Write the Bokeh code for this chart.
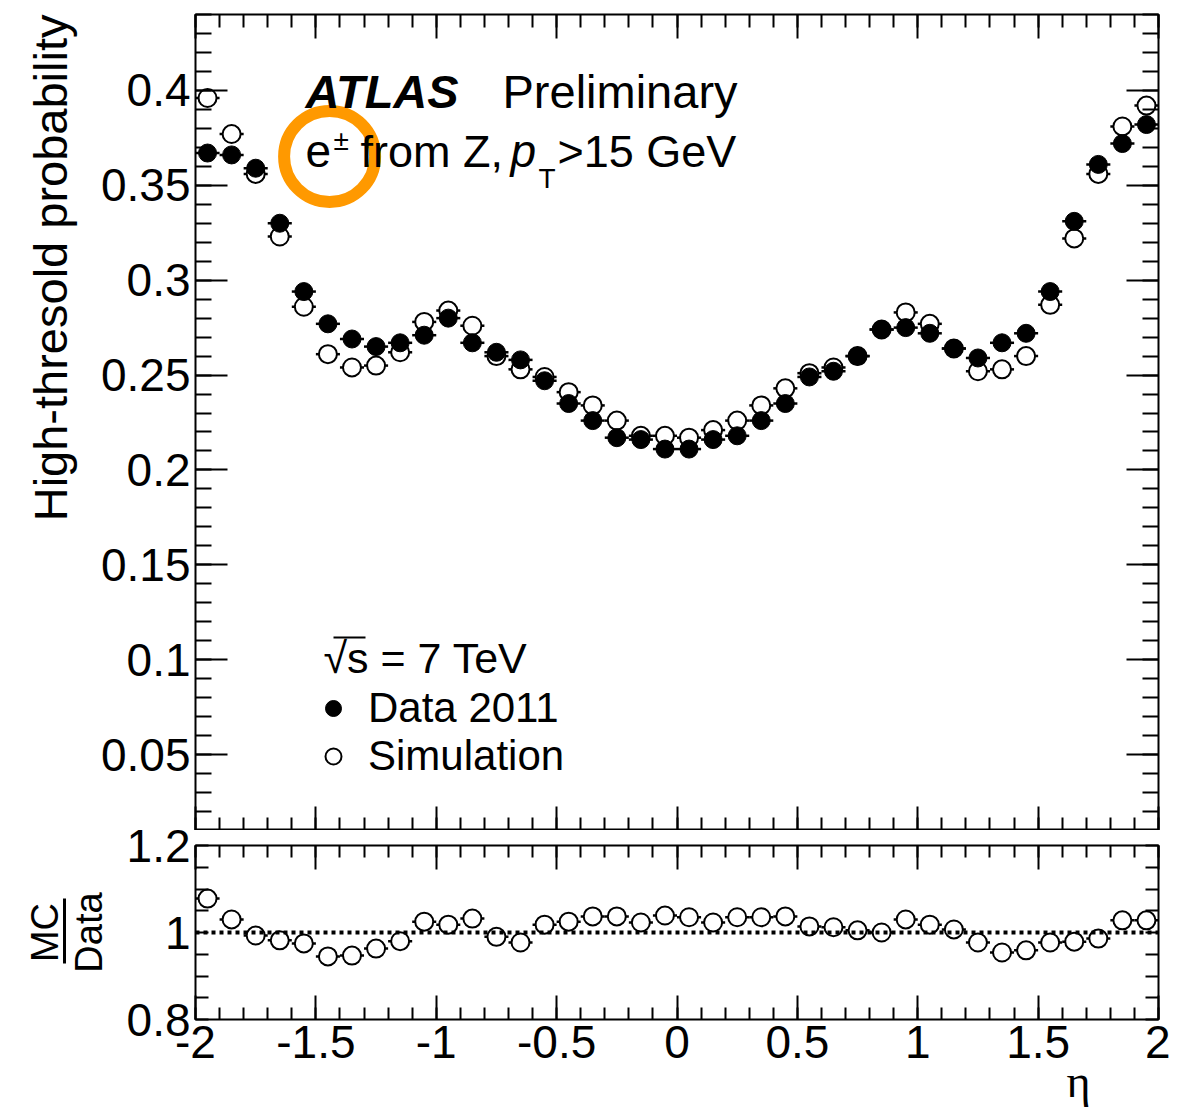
import math
from bokeh.plotting import figure
from bokeh.layouts import column
from bokeh.models import (ColumnDataSource, LinearAxis, SingleIntervalTicker, FixedTicker,
                          CustomJSTickFormatter, Label, Span, Legend, LegendItem, Arrow, Range1d,
                          Title)
from bokeh.embed import file_html
from bokeh.resources import INLINE

# ---------------- data ----------------
eta = [-1.95, -1.85, -1.75, -1.65, -1.55, -1.45, -1.35, -1.25, -1.15, -1.05,
       -0.95, -0.85, -0.75, -0.65, -0.55, -0.45, -0.35, -0.25, -0.15, -0.05,
       0.05, 0.15, 0.25, 0.35, 0.45, 0.55, 0.65, 0.75, 0.85, 0.95,
       1.05, 1.15, 1.25, 1.35, 1.45, 1.55, 1.65, 1.75, 1.85, 1.95]
bin_half_width = 0.05

data_2011 = [0.367, 0.366, 0.359, 0.330, 0.294, 0.277, 0.269, 0.265, 0.267, 0.271,
             0.280, 0.267, 0.262, 0.258, 0.247, 0.235, 0.226, 0.217, 0.216, 0.211,
             0.211, 0.216, 0.218, 0.226, 0.235, 0.249, 0.252, 0.260, 0.274, 0.275,
             0.272, 0.264, 0.259, 0.267, 0.272, 0.294, 0.331, 0.361, 0.372, 0.382]

simulation = [0.396, 0.377, 0.356, 0.323, 0.286, 0.261, 0.254, 0.255, 0.262, 0.278,
              0.284, 0.276, 0.260, 0.253, 0.249, 0.241, 0.234, 0.226, 0.218, 0.218,
              0.217, 0.221, 0.226, 0.234, 0.243, 0.251, 0.254, 0.260, 0.274, 0.283,
              0.277, 0.264, 0.252, 0.253, 0.260, 0.287, 0.322, 0.356, 0.381, 0.392]

ratio_mc_data = [1.078, 1.030, 0.993, 0.982, 0.975, 0.945, 0.947, 0.963, 0.980, 1.025,
                 1.018, 1.032, 0.990, 0.977, 1.018, 1.025, 1.037, 1.037, 1.023, 1.039,
                 1.035, 1.023, 1.035, 1.035, 1.037, 1.014, 1.012, 1.005, 1.000, 1.030,
                 1.018, 1.007, 0.977, 0.954, 0.959, 0.977, 0.979, 0.986, 1.028, 1.028]

FONT = "Liberation Sans"
TICK_FS = "46px"

fmt = CustomJSTickFormatter(code="""
var s = tick.toFixed(2);
s = s.replace(/0+$/, '');
s = s.replace(/\\.$/, '');
if (s == '-0') { s = '0'; }
return s;
""")
blank_fmt = CustomJSTickFormatter(code="return '';")

lo = [e - bin_half_width for e in eta]
hi = [e + bin_half_width for e in eta]
src = ColumnDataSource(dict(eta=eta, lo=lo, hi=hi, data=data_2011, mc=simulation, ratio=ratio_mc_data))


def make_axis(ticker, major_in, minor_in, labels, standoff=5):
    ax = LinearAxis(ticker=ticker, formatter=fmt if labels else blank_fmt)
    ax.axis_line_color = None
    ax.major_tick_in = major_in
    ax.major_tick_out = 0
    ax.minor_tick_in = minor_in
    ax.minor_tick_out = 0
    ax.major_tick_line_width = 2
    ax.minor_tick_line_width = 2
    ax.major_tick_line_color = "black"
    ax.minor_tick_line_color = "black"
    if labels:
        ax.major_label_text_font = FONT
        ax.major_label_text_font_size = TICK_FS
        ax.major_label_text_color = "black"
        ax.major_label_standoff = standoff
    else:
        ax.major_label_text_font_size = "1px"
        ax.major_label_text_color = None
        ax.major_label_standoff = 0
    return ax


# ---------------- main panel ----------------
p = figure(width=1170, height=830, x_range=Range1d(-2, 2), y_range=Range1d(0.01, 0.44),
           output_backend="svg", toolbar_location=None,
           min_border_left=195, min_border_right=12, min_border_top=14, min_border_bottom=0,
           x_axis_location=None, y_axis_location=None)
p.grid.visible = False
p.outline_line_color = "black"
p.outline_line_width = 2

p.add_layout(make_axis(SingleIntervalTicker(interval=0.05, num_minor_ticks=5), 32, 16, True), "left")
p.add_layout(make_axis(SingleIntervalTicker(interval=0.05, num_minor_ticks=5), 32, 16, False), "right")
p.add_layout(make_axis(SingleIntervalTicker(interval=0.5, num_minor_ticks=5), 24, 13, False), "below")
p.add_layout(make_axis(SingleIntervalTicker(interval=0.5, num_minor_ticks=5), 24, 13, False), "above")

p.add_layout(Title(text="High-thresold probability", align="right", offset=0, standoff=41,
                   text_font=FONT, text_font_size="47px", text_font_style="normal",
                   text_color="black"), "left")

p.segment(x0="lo", y0="mc", x1="hi", y1="mc", source=src, line_color="black", line_width=2.5)
p.segment(x0="lo", y0="data", x1="hi", y1="data", source=src, line_color="black", line_width=2.5)
r_mc = p.scatter("eta", "mc", source=src, marker="circle", size=18,
                 fill_color="white", line_color="black", line_width=2)
r_data = p.scatter("eta", "data", source=src, marker="circle", size=18,
                   fill_color="black", line_color="black", line_width=1)

legend = Legend(items=[LegendItem(label="Data 2011", renderers=[r_data]),
                       LegendItem(label="Simulation", renderers=[r_mc])],
                location=(118, 50), glyph_width=40, glyph_height=40, label_standoff=15,
                padding=0, margin=0, spacing=0, background_fill_alpha=0, border_line_color=None,
                label_text_font=FONT, label_text_font_size="42px", label_text_color="black")
p.add_layout(legend)


def lab(fig, text, x, y, size=46, style="normal", font=FONT):
    # y is the wanted baseline height above the frame bottom; the label anchor sits mid-glyph
    fig.add_layout(Label(x=x, y=y + 0.36 * size, x_units="screen", y_units="screen", text=text,
                         text_font=font, text_font_size=f"{size}px", text_font_style=style,
                         text_align="left", text_baseline="alphabetic", text_color="black"))


lab(p, "ATLAS", 110, 722, size=47, style="bold italic")
lab(p, "Preliminary", 307, 722, size=47)
lab(p, "e", 110, 663)
lab(p, "±", 138, 680, size=28)
lab(p, "from Z,", 165, 663, size=45)
lab(p, "p", 315, 663, style="italic")
lab(p, "T", 343, 642, size=28)
lab(p, ">15 GeV", 362, 663, size=45)
lab(p, "√s = 7 TeV", 128, 157, size=43)
p.add_layout(Arrow(end=None, x_start=138, y_start=193, x_end=170, y_end=193,
                   start_units="screen", end_units="screen", line_width=2, line_color="black"))

# orange highlight ring around e±
p.scatter(x=[-1.443], y=[0.3652], marker="circle", size=91, fill_color=None,
          line_color="#ff9900", line_width=12)

# ---------------- ratio panel ----------------
r = figure(width=1170, height=297, x_range=p.x_range, y_range=Range1d(0.8, 1.2),
           output_backend="svg", toolbar_location=None,
           min_border_left=195, min_border_right=12, min_border_top=27, min_border_bottom=96,
           x_axis_location=None, y_axis_location=None, margin=(-12, 0, 0, 0))
r.grid.visible = False
r.outline_line_color = "black"
r.outline_line_width = 2
r.border_fill_color = None

ratio_left = make_axis(FixedTicker(ticks=[0.8, 1.0, 1.2],
                                   minor_ticks=[0.85, 0.9, 0.95, 1.05, 1.1, 1.15]), 13, 13, True)
ratio_left.axis_label = "Data"
ratio_left.axis_label_standoff = 14
ratio_left.axis_label_text_font = FONT
ratio_left.axis_label_text_font_size = "38px"
ratio_left.axis_label_text_font_style = "normal"
ratio_left.axis_label_text_color = "black"
r.add_layout(ratio_left, "left")
# fraction bar of the MC/Data title: a bare axis line limited by bounds
bar = LinearAxis(ticker=FixedTicker(ticks=[]), formatter=blank_fmt, bounds=(0.929, 1.078))
bar.axis_line_width = 3
bar.axis_line_color = "black"
bar.major_tick_in = 0
bar.major_tick_out = 0
bar.minor_tick_in = 0
bar.minor_tick_out = 0
bar.major_label_text_font_size = "1px"
bar.major_label_text_color = None
bar.major_label_standoff = 0
r.add_layout(bar, "left")
r.add_layout(Title(text="MC", align="center", standoff=-3, text_font=FONT, text_font_size="38px",
                   text_font_style="normal", text_color="black"), "left")

r.add_layout(make_axis(FixedTicker(ticks=[0.8, 1.0, 1.2],
                                   minor_ticks=[0.85, 0.9, 0.95, 1.05, 1.1, 1.15]), 13, 13, False), "right")
r.add_layout(make_axis(SingleIntervalTicker(interval=0.5, num_minor_ticks=5), 24, 12, True, standoff=6),
             "below")
r.add_layout(make_axis(SingleIntervalTicker(interval=0.5, num_minor_ticks=5), 24, 12, False), "above")
r.add_layout(Title(text="η", align="right", offset=68, standoff=-13,
                   text_font="Liberation Serif", text_font_size="46px", text_font_style="normal",
                   text_color="black"), "below")

r.segment(x0="lo", y0="ratio", x1="hi", y1="ratio", source=src, line_color="black", line_width=2.5)
r.scatter("eta", "ratio", source=src, marker="circle", size=18,
          fill_color="white", line_color="black", line_width=2)
r.add_layout(Span(location=1.0, dimension="width", line_color="black", line_width=4,
                  line_dash="4 4"))

layout = column(p, r, spacing=0)
open("out.html", "w").write(file_html(layout, INLINE))
